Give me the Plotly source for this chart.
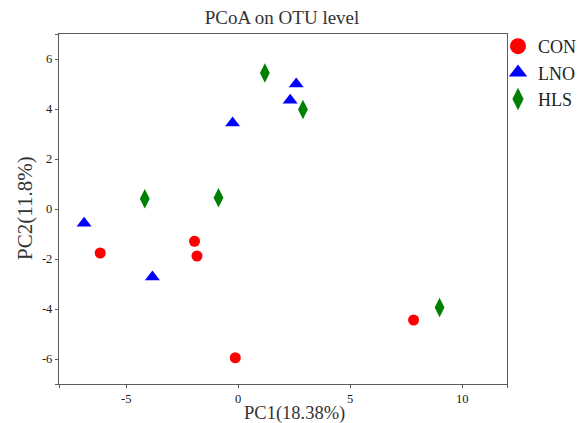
import plotly.graph_objects as go

groups = ["CON", "LNO", "HLS"]
con_x = [-6.16, -1.95, -1.84, -0.13, 7.83]
con_y = [-1.76, -1.29, -1.88, -5.95, -4.44]
lno_x = [-6.88, -3.83, -0.25, 2.32, 2.59]
lno_y = [-0.57, -2.72, 3.44, 4.35, 5.00]
hls_x = [-4.17, -0.88, 1.19, 2.89, 8.99]
hls_y = [0.41, 0.45, 5.44, 3.98, -3.94]

x_tickvals = [-8, -5, 0, 5, 10, 12]
x_ticktext = ["", "-5", "0", "5", "10", ""]
y_tickvals = [-7, -6, -4, -2, 0, 2, 4, 6, 7]
y_ticktext = ["", "-6", "-4", "-2", "0", "2", "4", "6", ""]

series = [
    ("CON", con_x, con_y, "circle", "#ff0000", 11),
    ("LNO", lno_x, lno_y, "triangle-up", "#0000ff", 13),
    ("HLS", hls_x, hls_y, "diamond-tall", "#008000", 14),
]

fig = go.Figure()
for name, xs, ys, sym, col, sz in series:
    fig.add_trace(go.Scatter(x=xs, y=ys, mode="markers", name=name, showlegend=False,
                             marker=dict(symbol=sym, color=col, size=sz, line=dict(width=0))))
for name, xs, ys, sym, col, sz in series:
    fig.add_trace(go.Scatter(x=[None], y=[None], mode="markers", name=name, showlegend=True,
                             marker=dict(symbol=sym, color=col, size=17 if sym != "diamond-tall" else 19,
                                         line=dict(width=0))))

font_family = "Liberation Serif, Times New Roman, serif"
axis_common = dict(showgrid=False, zeroline=False, showline=True, linecolor="#5a5a5a", linewidth=1.4,
                   mirror=True, ticks="outside", ticklen=3, tickcolor="#5a5a5a", tickwidth=1,
                   tickfont=dict(family=font_family, size=12.5, color="#1a1a1a"))

L, R, T, B = 59, 70, 34, 39
W, H = 577, 423
pw, ph = W - L - R, H - T - B

fig.update_layout(
    width=W, height=H,
    margin=dict(l=L, r=R, t=T, b=B, autoexpand=False),
    paper_bgcolor="white", plot_bgcolor="white",
    title=dict(text="PCoA on OTU level", xref="container", x=282 / W, xanchor="center",
               yref="container", y=1 - 17 / H, yanchor="middle",
               font=dict(family=font_family, size=19, color="#333333")),
    xaxis=dict(range=[-8, 12], tickvals=x_tickvals, ticktext=x_ticktext, **axis_common),
    yaxis=dict(range=[-7, 7], tickvals=y_tickvals, ticktext=y_ticktext, **axis_common),
    legend=dict(x=(498 - L) / pw, xanchor="left", y=1 + 6 / ph, yanchor="top", tracegroupgap=0,
                font=dict(family=font_family, size=18, color="#222222"),
                bgcolor="rgba(0,0,0,0)", itemwidth=30),
    annotations=[
        dict(text="PC1(18.38%)", xref="paper", yref="paper", x=(294 - L) / pw, y=-(413.5 - (H - B)) / ph,
             xanchor="center", yanchor="middle", showarrow=False,
             font=dict(family=font_family, size=18.5, color="#333333")),
        dict(text="PC2(11.8%)", xref="paper", yref="paper", x=(25 - L) / pw, y=((H - B) - 208) / ph,
             xanchor="center", yanchor="middle", showarrow=False, textangle=-90,
             font=dict(family=font_family, size=21, color="#333333")),
    ],
)

fig.write_html("out.html", config={"displayModeBar": False},
               post_script="document.body.style.margin='0';document.body.style.overflow='hidden';")
